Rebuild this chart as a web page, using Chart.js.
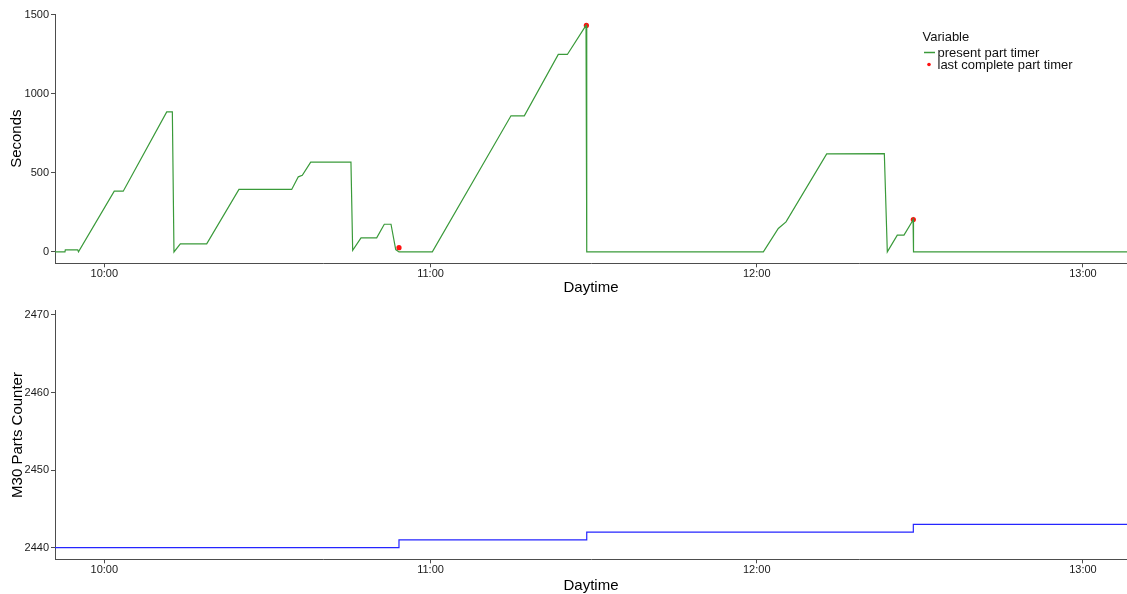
<!DOCTYPE html>
<html>
<head>
<meta charset="utf-8">
<title>M30 part timer and parts counter</title>
<script src="https://cdn.jsdelivr.net/npm/chart.js@4.4.1/dist/chart.umd.min.js"></script>
<style>
  html, body { margin: 0; padding: 0; background: #ffffff; }
  #wrap { position: relative; width: 1127px; height: 594px; overflow: hidden; }
  canvas { position: absolute; left: 0; }
  #timer { top: 0; }
  #counter { top: 300px; }
</style>
</head>
<body>
<div id="wrap">
  <canvas id="timer" width="1127" height="300"></canvas>
  <canvas id="counter" width="1127" height="294"></canvas>
</div>
<script>
// Present part timer (seconds) sampled at the listed clock times
const timerTimes = ['09:50:56','09:52:46','09:52:50','09:55:07','09:55:15','10:01:50','10:03:29','10:11:29',
  '10:12:31','10:12:49','10:13:59','10:18:50','10:24:46','10:34:28','10:35:41','10:36:25','10:37:58',
  '10:45:22','10:45:41','10:47:13','10:50:06','10:51:30','10:52:44','10:53:36','10:54:12','11:00:20',
  '11:14:48','11:17:15','11:23:30','11:25:10','11:28:36','11:28:44','12:01:13','12:03:58','12:05:23',
  '12:12:52','12:23:28','12:24:01','12:25:51','12:27:05','12:28:37','12:28:45','12:28:50','13:08:06'];
const timerSeconds = [0,0,13,13,0,384,384,886,
  886,0,51,51,395,395,475,485,568,
  568,10,89,89,175,175,15,0,0,
  861,861,1249,1249,1433,0,0,148,190,
  620,622,0,106,106,194,205,0,0];

// Last complete part timer, recorded when a part finishes
const completeTimes = ['10:54:12','11:28:40','12:28:48'];
const completeSeconds = [27, 1433, 205];

// M30 parts counter (steps up when a part completes)
const counterTimes = ['09:50:56','10:54:12','11:28:44','12:28:48','13:08:06'];
const counterValues = [2440, 2441, 2442, 2443, 2443];

// Axis ticks and ranges
const timeRange = ['09:50:56', '13:08:06'];
const timeTickLabels = ['10:00', '11:00', '12:00', '13:00'];
const secondsTicks = [0, 500, 1000, 1500];
const counterTicks = [2440, 2450, 2460, 2470];
const seriesNames = ['present part timer', 'last complete part timer'];
const legendTitle = 'Variable';

// clock string -> minutes since midnight
function toMin(t) {
  const p = t.split(':').map(Number);
  return p[0] * 60 + p[1] + (p[2] || 0) / 60;
}
const pairs = (ts, vs) => ts.map((t, i) => ({ x: toMin(t), y: vs[i] }));

const FONT = '"Liberation Sans", Arial, Helvetica, sans-serif';
Chart.defaults.font.family = FONT;
const axisColor = '#4d4d4d';
const tickColor = '#1a1a1a';

function timeAxis(height, titleBottom) {
  return {
    type: 'linear',
    min: toMin(timeRange[0]),
    max: toMin(timeRange[1]),
    afterBuildTicks: s => { s.ticks = timeTickLabels.map(t => ({ value: toMin(t) })); },
    afterFit: s => { s.height = height; },
    ticks: {
      autoSkip: false, maxRotation: 0, padding: 0, color: tickColor,
      font: { size: 11 },
      callback: (v, i) => timeTickLabels[i]
    },
    grid: { display: true, drawOnChartArea: false, drawTicks: true, tickLength: 4, tickColor: axisColor, color: axisColor },
    border: { display: true, color: axisColor, width: 1 },
    title: { display: true, text: 'Daytime', color: '#000', font: { size: 15, lineHeight: 1 }, padding: { top: 0, bottom: titleBottom } }
  };
}

function valueAxis(min, max, ticks, title, titleTop) {
  return {
    type: 'linear',
    min: min, max: max,
    afterBuildTicks: s => { s.ticks = ticks.map(v => ({ value: v })); },
    afterFit: s => { s.width = 55; },
    ticks: { padding: 2, color: tickColor, font: { size: 11 }, callback: v => String(v) },
    grid: { display: true, drawOnChartArea: false, drawTicks: true, tickLength: 4, tickColor: axisColor, color: axisColor },
    border: { display: true, color: axisColor, width: 1 },
    title: { display: true, text: title, color: '#000', font: { size: 15, lineHeight: 1 }, padding: { top: titleTop, bottom: 0 } }
  };
}

// ggplot-style legend drawn inside the upper plot
const variableLegend = {
  id: 'variableLegend',
  afterDraw(chart) {
    const ctx = chart.ctx;
    const ds = chart.data.datasets;
    ctx.save();
    ctx.textAlign = 'left';
    ctx.textBaseline = 'middle';
    ctx.font = '13px ' + FONT;
    ctx.fillStyle = '#111';
    ctx.fillText(legendTitle, 922.5, 37.5);
    ctx.strokeStyle = ds[0].borderColor;
    ctx.lineWidth = 1.5;
    ctx.beginPath();
    ctx.moveTo(924, 52.5);
    ctx.lineTo(935, 52.5);
    ctx.stroke();
    ctx.fillText(ds[0].label, 937.5, 53);
    ctx.fillStyle = ds[1].backgroundColor;
    ctx.beginPath();
    ctx.arc(929, 64.5, 1.8, 0, Math.PI * 2);
    ctx.fill();
    ctx.fillStyle = '#111';
    ctx.fillText(ds[1].label, 937.5, 65.5);
    ctx.restore();
  }
};

const common = {
  responsive: false,
  animation: false,
  events: [],
  plugins: { legend: { display: false }, tooltip: { enabled: false } }
};

new Chart(document.getElementById('timer'), {
  type: 'line',
  data: {
    datasets: [
      {
        label: seriesNames[0],
        data: pairs(timerTimes, timerSeconds),
        borderColor: '#3a9a3a',
        backgroundColor: '#3a9a3a',
        borderWidth: 1.2,
        pointRadius: 0,
        tension: 0
      },
      {
        label: seriesNames[1],
        data: pairs(completeTimes, completeSeconds),
        showLine: false,
        pointRadius: 2.6,
        pointBorderWidth: 0,
        backgroundColor: '#ff1010',
        borderColor: '#ff1010'
      }
    ]
  },
  options: Object.assign({}, common, {
    layout: { autoPadding: false, padding: { top: 14, left: 0, right: 0, bottom: 0 } },
    scales: {
      x: timeAxis(36.7, 4.7),
      y: valueAxis(-72, 1505, secondsTicks, 'Seconds', 9)
    }
  }),
  plugins: [variableLegend]
});

new Chart(document.getElementById('counter'), {
  type: 'line',
  data: {
    datasets: [
      {
        label: 'M30 Parts Counter',
        data: pairs(counterTimes, counterValues),
        borderColor: '#2525ff',
        backgroundColor: '#2525ff',
        borderWidth: 1.2,
        pointRadius: 0,
        stepped: true
      }
    ]
  },
  options: Object.assign({}, common, {
    layout: { autoPadding: false, padding: { top: 10.7, left: 0, right: 0, bottom: 0 } },
    scales: {
      x: timeAxis(34.7, 1.1),
      y: valueAxis(2438.5, 2470.55, counterTicks, 'M30 Parts Counter', 10)
    }
  })
});
</script>
</body>
</html>
